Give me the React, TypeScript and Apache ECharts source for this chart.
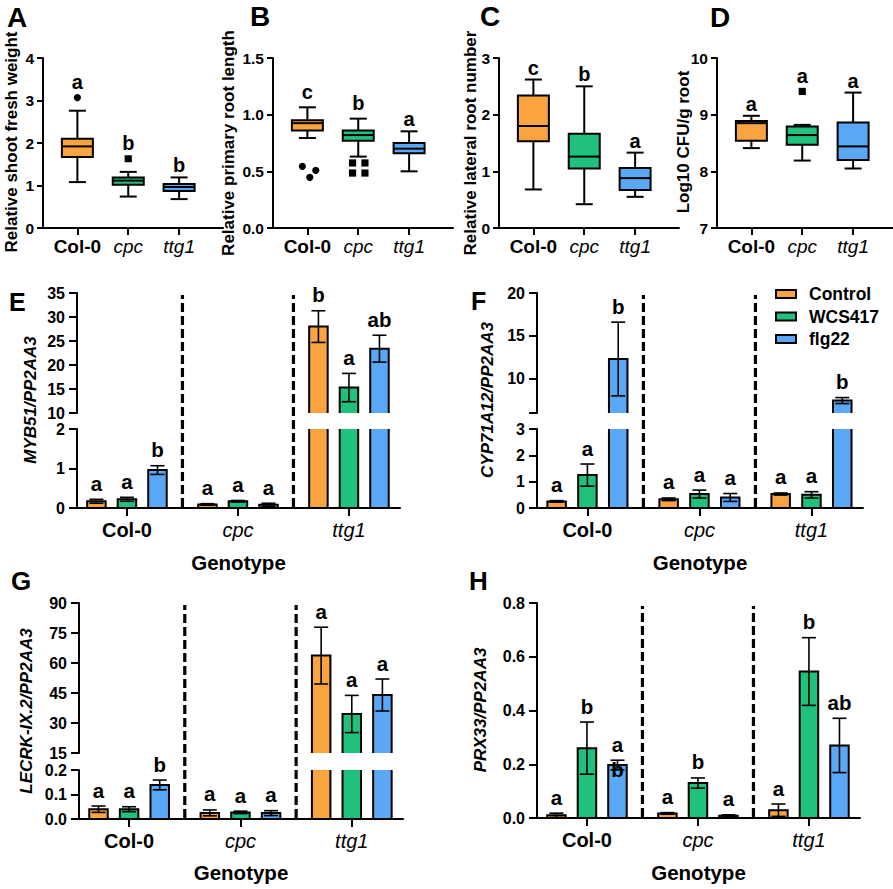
import React, { useEffect, useRef } from 'react';
import * as echarts from 'echarts';

const FONT = '"Liberation Sans", Arial, Helvetica, sans-serif';

const genotypes = ['Col-0', 'cpc', 'ttg1'];
const treatments = ['Control', 'WCS417', 'flg22'];
const groupColors = ['#F9A440', '#20C07D', '#5AA8F5'];

// ---- Panel A: relative shoot fresh weight  [low whisker, Q1, median, Q3, high whisker]
const shootWeightBox = [
  [1.08, 1.67, 1.92, 2.1, 2.76],
  [0.74, 1.02, 1.115, 1.19, 1.32],
  [0.68, 0.87, 0.965, 1.035, 1.19],
];
const shootWeightOutliers = [[3.07], [1.63], []];
const shootWeightLetters = ['a', 'b', 'b'];
const shootWeightTicks = [0, 1, 2, 3, 4];

// ---- Panel B: relative primary root length
const rootLengthBox = [
  [0.794, 0.86, 0.925, 0.95, 1.065],
  [0.63, 0.77, 0.82, 0.86, 0.965],
  [0.5, 0.66, 0.7, 0.75, 0.853],
];
const rootLengthOutliers = [[0.544, 0.509, 0.447], [0.574, 0.574, 0.485, 0.485], []];
const rootLengthLetters = ['c', 'b', 'a'];
const rootLengthTicks = [0, 0.5, 1.0, 1.5];

// ---- Panel C: relative lateral root number
const lateralRootBox = [
  [0.68, 1.53, 1.8, 2.34, 2.62],
  [0.42, 1.05, 1.26, 1.665, 2.5],
  [0.55, 0.67, 0.88, 1.06, 1.33],
];
const lateralRootOutliers = [[], [], []];
const lateralRootLetters = ['c', 'b', 'a'];
const lateralRootTicks = [0, 1, 2, 3];

// ---- Panel D: Log10 CFU/g root
const cfuBox = [
  [8.41, 8.54, 8.85, 8.89, 8.98],
  [8.19, 8.47, 8.64, 8.79, 8.82],
  [8.05, 8.2, 8.44, 8.86, 9.39],
];
const cfuOutliers = [[], [9.41], []];
const cfuLetters = ['a', 'a', 'a'];
const cfuTicks = [7, 8, 9, 10];

// ---- Panel E: MYB51/PP2AA3 (rows = genotype, cols = treatment)
const myb51Mean = [[0.17, 0.22, 0.96], [0.09, 0.17, 0.08], [28.0, 15.3, 23.4]];
const myb51Sem = [[0.05, 0.05, 0.11], [0.02, 0.02, 0.04], [3.3, 2.95, 2.8]];
const myb51Letters = [['a', 'a', 'b'], ['a', 'a', 'a'], ['b', 'a', 'ab']];
const myb51LowerTicks = [0, 1, 2];
const myb51UpperTicks = [10, 15, 20, 25, 30, 35];

// ---- Panel F: CYP71A12/PP2AA3
const cyp71Mean = [[0.25, 1.25, 12.3], [0.33, 0.53, 0.4], [0.53, 0.5, 7.45]];
const cyp71Sem = [[0.03, 0.42, 4.3], [0.05, 0.15, 0.15], [0.04, 0.12, 0.35]];
const cyp71Letters = [['a', 'a', 'b'], ['a', 'a', 'a'], ['a', 'a', 'b']];
const cyp71LowerTicks = [0, 1, 2, 3];
const cyp71UpperTicks = [10, 15, 20];

// ---- Panel G: LECRK-IX.2/PP2AA3
const lecrkMean = [[0.04, 0.04, 0.139], [0.025, 0.027, 0.024], [63.7, 34.5, 44.0]];
const lecrkSem = [[0.013, 0.01, 0.02], [0.012, 0.005, 0.01], [14.2, 9.3, 8.0]];
const lecrkLetters = [['a', 'a', 'b'], ['a', 'a', 'a'], ['a', 'a', 'a']];
const lecrkLowerTicks = [0, 0.1, 0.2];
const lecrkUpperTicks = [15, 30, 45, 60, 75, 90];

// ---- Panel H: PRX33/PP2AA3
const prx33Mean = [[0.01, 0.26, 0.197], [0.017, 0.13, 0.008], [0.029, 0.545, 0.27]];
const prx33Sem = [[0.008, 0.097, 0.018], [0.003, 0.019, 0.004], [0.023, 0.126, 0.101]];
const prx33Letters = [['a', 'b', 'a\nb'], ['a', 'b', 'a'], ['a', 'b', 'ab']];
const prx33Ticks = [0, 0.2, 0.4, 0.6, 0.8];

// ---- layout / style constants (not data)
const BAR_STEP = 0.275;
const BAR_HALF = 9.25;
const BOX_HALF = 15.5;
const CAP_HALF_BOX = 8.5;
const CAP_HALF_BAR = 7;
const rootLengthJitterPx = [[-5, 8.4, 2.4], [-5.7, 6.7, -5.7, 6.7], []];

function buildOption() {
  const grids: any[] = [];
  const xAxes: any[] = [];
  const yAxes: any[] = [];
  const series: any[] = [];
  const graphics: any[] = [];

  const xLabelFmt = (v: number) => {
    const i = Math.round(v) - 1;
    const name = genotypes[i] ?? '';
    return i === 0 ? `{n|${name}}` : `{i|${name}}`;
  };

  const addGrid = (cfg: {
    left: number; top: number; width: number; height: number;
    xMin: number; xMax: number; showX: boolean; xFont: number; xTickLen: number; xMargin: number;
    yMin: number; yMax: number; yTicks: number[]; yLabels: number[]; dec: number;
    yFont: number; yTickLen: number; yMargin: number;
  }) => {
    const idx = grids.length;
    grids.push({ left: cfg.left, top: cfg.top, width: cfg.width, height: cfg.height, outerBoundsMode: 'none' });
    xAxes.push({
      gridIndex: idx, type: 'value', min: cfg.xMin, max: cfg.xMax, show: cfg.showX,
      axisLine: { show: true, onZero: false, lineStyle: { color: '#000', width: 2 } },
      axisTick: { show: true, customValues: [1, 2, 3], length: cfg.xTickLen, lineStyle: { color: '#000', width: 2 } },
      axisLabel: {
        show: true, customValues: [1, 2, 3], margin: cfg.xMargin, formatter: xLabelFmt,
        rich: {
          n: { fontSize: cfg.xFont, fontWeight: 'bold', fontStyle: 'normal', fontFamily: FONT, color: '#000' },
          i: { fontSize: cfg.xFont, fontWeight: 'normal', fontStyle: 'italic', fontFamily: FONT, color: '#000' },
        },
      },
      splitLine: { show: false },
    });
    yAxes.push({
      gridIndex: idx, type: 'value', min: cfg.yMin, max: cfg.yMax,
      axisLine: { show: true, onZero: false, lineStyle: { color: '#000', width: 2 } },
      axisTick: { show: true, customValues: cfg.yTicks, length: cfg.yTickLen, lineStyle: { color: '#000', width: 2 } },
      axisLabel: {
        show: true, customValues: cfg.yLabels, margin: cfg.yMargin,
        formatter: (v: number) => Number(v).toFixed(cfg.dec),
        fontSize: cfg.yFont, fontWeight: 'bold', color: '#000', fontFamily: FONT,
      },
      splitLine: { show: false },
    });
    return idx;
  };

  const textEl = (text: string, x: number, y: number, size: number, opts: any = {}) => ({
    type: 'text', x, y, rotation: opts.rotation || 0, silent: true,
    style: {
      text, fill: '#000', fontSize: size, fontWeight: opts.weight || 'bold', fontStyle: opts.style || 'normal',
      fontFamily: FONT, align: opts.align || 'center', verticalAlign: 'middle',
      textAlign: opts.align || 'center', textVerticalAlign: 'middle',
    },
  });

  // ---------------- top row: box plots ----------------
  const topPanels = [
    { left: 43, box: shootWeightBox, out: shootWeightOutliers, letters: shootWeightLetters, ticks: shootWeightTicks, dec: 0, jitter: null as any },
    { left: 273, box: rootLengthBox, out: rootLengthOutliers, letters: rootLengthLetters, ticks: rootLengthTicks, dec: 1, jitter: rootLengthJitterPx },
    { left: 499, box: lateralRootBox, out: lateralRootOutliers, letters: lateralRootLetters, ticks: lateralRootTicks, dec: 0, jitter: null },
    { left: 717, box: cfuBox, out: cfuOutliers, letters: cfuLetters, ticks: cfuTicks, dec: 0, jitter: null },
  ];
  topPanels.forEach((p) => {
    const g = addGrid({
      left: p.left, top: 58, width: 180, height: 170,
      xMin: 0.324, xMax: 3.863, showX: true, xFont: 19, xTickLen: 7, xMargin: 9,
      yMin: p.ticks[0], yMax: p.ticks[p.ticks.length - 1], yTicks: p.ticks, yLabels: p.ticks, dec: p.dec,
      yFont: 15.5, yTickLen: 6, yMargin: 9,
    });
    series.push({
      type: 'custom', xAxisIndex: g, yAxisIndex: g, clip: false, silent: true,
      data: p.box.map((b, i) => [i + 1, ...b]),
      renderItem: (params: any, api: any) => {
        const x = api.value(0);
        const lo = api.coord([x, api.value(1)]);
        const q1 = api.coord([x, api.value(2)]);
        const md = api.coord([x, api.value(3)]);
        const q3 = api.coord([x, api.value(4)]);
        const hi = api.coord([x, api.value(5)]);
        const cx = lo[0];
        const ls = { stroke: '#000', lineWidth: 2 };
        return {
          type: 'group',
          children: [
            { type: 'line', shape: { x1: cx, y1: hi[1], x2: cx, y2: q3[1] }, style: ls },
            { type: 'line', shape: { x1: cx, y1: q1[1], x2: cx, y2: lo[1] }, style: ls },
            { type: 'line', shape: { x1: cx - CAP_HALF_BOX, y1: hi[1], x2: cx + CAP_HALF_BOX, y2: hi[1] }, style: ls },
            { type: 'line', shape: { x1: cx - CAP_HALF_BOX, y1: lo[1], x2: cx + CAP_HALF_BOX, y2: lo[1] }, style: ls },
            {
              type: 'rect',
              shape: { x: cx - BOX_HALF, y: q3[1], width: 2 * BOX_HALF, height: q1[1] - q3[1] },
              style: { fill: groupColors[params.dataIndex], stroke: '#000', lineWidth: 2 },
            },
            { type: 'line', shape: { x1: cx - BOX_HALF, y1: md[1], x2: cx + BOX_HALF, y2: md[1] }, style: ls },
          ],
        };
      },
    });
    const outData: number[][] = [];
    p.out.forEach((vals: number[], i: number) =>
      vals.forEach((v, k) => outData.push([i + 1, v, i, p.jitter ? p.jitter[i][k] : 0])),
    );
    series.push({
      type: 'custom', xAxisIndex: g, yAxisIndex: g, clip: false, silent: true,
      data: outData,
      renderItem: (params: any, api: any) => {
        const c = api.coord([api.value(0), api.value(1)]);
        const cx = c[0] + api.value(3);
        const shape = api.value(2);
        if (shape === 0) {
          return { type: 'circle', shape: { cx, cy: c[1], r: 3.6 }, style: { fill: '#000' } };
        }
        return { type: 'rect', shape: { x: cx - 3.6, y: c[1] - 3.6, width: 7.2, height: 7.2 }, style: { fill: '#000' } };
      },
    });
    series.push({
      type: 'custom', xAxisIndex: g, yAxisIndex: g, clip: false, silent: true,
      data: p.box.map((b, i) => {
        const hasOut = p.out[i].length > 0;
        return [i + 1, Math.max(b[4], ...p.out[i]), hasOut ? 1 : 0];
      }),
      renderItem: (params: any, api: any) => {
        const c = api.coord([api.value(0), api.value(1)]);
        const y = c[1] - (api.value(2) ? 3.6 : 0) - 12;
        return textEl(p.letters[params.dataIndex], c[0], y, 20);
      },
    });
  });

  // ---------------- bottom: bar panels ----------------
  type Seg = { top: number; height: number; min: number; max: number; ticks: number[]; labels: number[]; dec: number; lower: boolean };
  const barPanel = (left: number, width: number, segs: Seg[], means: number[][], sems: number[][], letters: string[][], sepTop: number) => {
    const segGrids: number[] = [];
    segs.forEach((seg) => {
      const g = addGrid({
        left, top: seg.top, width, height: seg.height,
        xMin: 0.55, xMax: 3.46, showX: seg.lower, xFont: 20, xTickLen: 8, xMargin: 12,
        yMin: seg.min, yMax: seg.max, yTicks: seg.ticks, yLabels: seg.labels, dec: seg.dec,
        yFont: 16, yTickLen: 8, yMargin: 12,
      });
      segGrids.push(g);
      treatments.forEach((name, t) => {
        series.push({
          type: 'custom', name, xAxisIndex: g, yAxisIndex: g, clip: true, silent: true,
          itemStyle: { color: groupColors[t] },
          data: genotypes.map((_, i) => [i + 1 + (t - 1) * BAR_STEP, means[i][t], sems[i][t]]),
          renderItem: (params: any, api: any) => {
            const x = api.value(0);
            const m = api.value(1);
            const s = api.value(2);
            if (m <= seg.min) return null;
            const top = api.coord([x, m]);
            const base = api.coord([x, seg.min]);
            const baseY = seg.min > 0 ? base[1] + 8 : base[1];
            const eHi = api.coord([x, m + s]);
            const eLo = api.coord([x, Math.max(m - s, 0)]);
            const cx = top[0];
            const ls = { stroke: '#000', lineWidth: 1.6 };
            return {
              type: 'group',
              children: [
                {
                  type: 'rect',
                  shape: { x: cx - BAR_HALF, y: top[1], width: 2 * BAR_HALF, height: baseY - top[1] },
                  style: { fill: api.visual('color'), stroke: '#000', lineWidth: 2 },
                },
                { type: 'line', shape: { x1: cx, y1: eHi[1], x2: cx, y2: eLo[1] }, style: ls },
                { type: 'line', shape: { x1: cx - CAP_HALF_BAR, y1: eHi[1], x2: cx + CAP_HALF_BAR, y2: eHi[1] }, style: ls },
                { type: 'line', shape: { x1: cx - CAP_HALF_BAR, y1: eLo[1], x2: cx + CAP_HALF_BAR, y2: eLo[1] }, style: ls },
              ],
            };
          },
        });
      });
      const lData: number[][] = [];
      const lText: string[] = [];
      genotypes.forEach((_, i) =>
        treatments.forEach((__, t) => {
          lData.push([i + 1 + (t - 1) * BAR_STEP, means[i][t] + sems[i][t]]);
          lText.push(letters[i][t]);
        }),
      );
      series.push({
        type: 'custom', xAxisIndex: g, yAxisIndex: g, clip: false, silent: true,
        data: lData,
        renderItem: (params: any, api: any) => {
          const v = api.value(1);
          if (v < seg.min || v > seg.max) return null;
          const c = api.coord([api.value(0), v]);
          const lines = lText[params.dataIndex].split('\n');
          return {
            type: 'group',
            children: lines.map((l, k) => textEl(l, c[0], c[1] - 16 + k * 25, 20.5)),
          };
        },
      });
    });
    const lowerIdx = segs.findIndex((s) => s.lower);
    const lg = segGrids[lowerIdx];
    const lseg = segs[lowerIdx];
    series.push({
      type: 'custom', xAxisIndex: lg, yAxisIndex: lg, clip: false, silent: true,
      data: genotypes.slice(1).map((_, i) => [i + 1.5]),
      renderItem: (params: any, api: any) => {
        const p = api.coord([api.value(0), lseg.min]);
        return {
          type: 'line',
          shape: { x1: p[0], y1: p[1] - 1, x2: p[0], y2: sepTop },
          style: { stroke: '#000', lineWidth: 3.2, lineDash: [9, 4] },
        };
      },
    });
  };

  // E
  barPanel(77, 323, [
    { top: 429, height: 79, min: 0, max: 2, ticks: myb51LowerTicks, labels: myb51LowerTicks, dec: 0, lower: true },
    { top: 293, height: 120, min: 10, max: 35, ticks: myb51UpperTicks, labels: myb51UpperTicks, dec: 0, lower: false },
  ], myb51Mean, myb51Sem, myb51Letters, 295);
  // F
  barPanel(537, 326, [
    { top: 429, height: 79, min: 0, max: 3, ticks: cyp71LowerTicks, labels: cyp71LowerTicks, dec: 0, lower: true },
    { top: 293, height: 120, min: 6, max: 20, ticks: [6, ...cyp71UpperTicks], labels: cyp71UpperTicks, dec: 0, lower: false },
  ], cyp71Mean, cyp71Sem, cyp71Letters, 295);
  // G
  barPanel(79, 324, [
    { top: 770, height: 49, min: 0, max: 0.2, ticks: lecrkLowerTicks, labels: lecrkLowerTicks, dec: 1, lower: true },
    { top: 603, height: 150, min: 15, max: 90, ticks: lecrkUpperTicks, labels: lecrkUpperTicks, dec: 0, lower: false },
  ], lecrkMean, lecrkSem, lecrkLetters, 605);
  // H
  barPanel(537, 323, [
    { top: 603, height: 215, min: 0, max: 0.8, ticks: prx33Ticks, labels: prx33Ticks, dec: 1, lower: true },
  ], prx33Mean, prx33Sem, prx33Letters, 606);

  // ---------------- texts ----------------
  const panelLetters: [string, number, number, number][] = [
    ['A', 7, 17, 28], ['B', 250, 16.5, 28], ['C', 480, 16.5, 28], ['D', 710, 17, 28],
    ['E', 9, 301.5, 25], ['F', 471, 300.5, 25], ['G', 11, 581, 26], ['H', 469, 581, 26],
  ];
  panelLetters.forEach(([t, x, y, s]) => graphics.push(textEl(t, x, y, s, { align: 'left' })));

  const yTitles: [string, number, number, string][] = [
    ['Relative shoot fresh weight', 11, 142, 'normal'],
    ['Relative primary root length', 228, 143, 'normal'],
    ['Relative lateral root number', 470, 143, 'normal'],
    ['Log10 CFU/g root', 683, 142, 'normal'],
    ['MYB51/PP2AA3', 30, 400, 'italic'],
    ['CYP71A12/PP2AA3', 487, 400, 'italic'],
    ['LECRK-IX.2/PP2AA3', 26, 711, 'italic'],
    ['PRX33/PP2AA3', 480, 710, 'italic'],
  ];
  yTitles.forEach(([t, x, y, st]) =>
    graphics.push(textEl(t, x, y, st === 'italic' ? 17 : 17, { rotation: Math.PI / 2, style: st })),
  );

  [[238.5, 562], [700, 562], [241, 872], [698.5, 872]].forEach(([x, y]) =>
    graphics.push(textEl('Genotype', x, y, 20.5)),
  );

  return {
    backgroundColor: '#fff',
    animation: false,
    textStyle: { fontFamily: FONT },
    legend: {
      data: treatments,
      orient: 'vertical',
      left: 770,
      top: 279,
      icon: 'rect',
      itemWidth: 20,
      itemHeight: 8,
      itemGap: 2.5,
      selectedMode: false,
      itemStyle: { borderColor: '#000', borderWidth: 2 },
      textStyle: { fontSize: 17.5, fontWeight: 'bold', color: '#000', fontFamily: FONT, lineHeight: 20, padding: [0, 0, 0, 8] },
    },
    grid: grids,
    xAxis: xAxes,
    yAxis: yAxes,
    series,
    graphic: { elements: graphics },
  };
}

export default function App() {
  const ref = useRef<HTMLDivElement>(null);
  useEffect(() => {
    document.body.style.margin = '0';
    const chart = echarts.init(ref.current as HTMLDivElement, null, { renderer: 'svg', width: 893, height: 889 });
    chart.setOption(buildOption() as any);
    return () => chart.dispose();
  }, []);
  return <div ref={ref} style={{ width: 893, height: 889, position: 'absolute', left: 0, top: 0 }} />;
}
